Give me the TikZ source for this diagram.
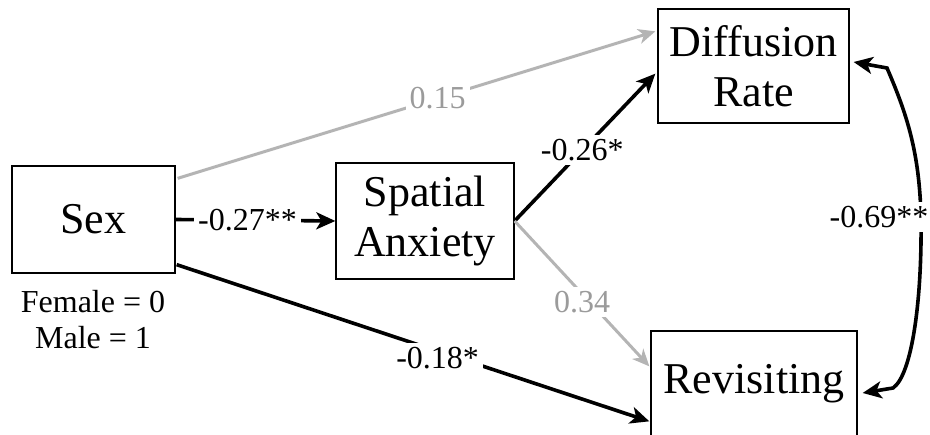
\documentclass[tikz,border=0pt]{standalone}
\usepackage{fontspec}
\setmainfont{Liberation Serif}
\usetikzlibrary{arrows.meta,calc}
\definecolor{lgray}{RGB}{180,180,180}
\definecolor{tgray}{RGB}{155,155,155}
\tikzset{
  box/.style={draw, line width=1.3pt, align=center, font=\fontsize{44}{50}\selectfont, inner sep=0pt},
  lbl/.style={fill=white, inner sep=4pt, font=\fontsize{32}{36}\selectfont, text=black},
  glbl/.style={lbl, text=tgray},
  blk/.style={line width=3.6pt, -{Stealth[length=19pt,width=17pt,inset=5pt]}},
  gry/.style={line width=3pt, lgray, -{Stealth[length=17pt,width=15pt,inset=5pt]}},
  dbl/.style={line width=3.6pt, {Stealth[length=19pt,width=17pt,inset=5pt]}-{Stealth[length=19pt,width=17pt,inset=5pt]}}
}
\begin{document}
\begin{tikzpicture}[x=1pt,y=-1pt]
\useasboundingbox (0,0) rectangle (930,435);
\clip (0,0) rectangle (930,435);
\node[box, minimum width=163pt, minimum height=107pt] (sex) at (93.5,219.5) {Sex};
\node[box, minimum width=178pt, minimum height=116pt] (spa) at (425,221) {Spatial\\Anxiety};
\node[box, minimum width=191pt, minimum height=114pt] (diff) at (753.5,66) {Diffusion\\Rate};
\node[box, minimum width=206pt, minimum height=106pt] (rev) at (754,384) {Revisiting};
\node[align=center, font=\fontsize{32}{36}\selectfont] (code) at (93,320) {Female = 0\\Male = 1};

% Sex -> Diffusion (gray)
\draw[gry] ($(sex.north east)+(2,13)$) -- ($(diff.north west)+(-2,23)$)
  node[glbl, pos=0.544] (l15) {0.15};
% Sex -> Spatial
\draw[blk] (sex.east) -- (spa.west) node[lbl, pos=0.45] (l27) {-0.27**};
% Sex -> Revisiting
\draw[blk] ($(sex.south east)+(1,-9)$) -- ($(rev.north west)+(-1,91)$)
  node[lbl, pos=0.552, yshift=-7pt] (l18) {-0.18*};
% Spatial -> Diffusion
\draw[blk] (spa.east) -- ($(diff.south west)+(-2,-50)$)
  node[lbl, pos=0.48] (l26) {-0.26*};
% Spatial -> Revisiting (gray)
\draw[gry] (spa.east) -- ($(rev.north west)+(-1,36)$)
  node[glbl, pos=0.5, yshift=-8pt] (l34) {0.34};
% Correlation
\draw[dbl] ($(diff.east)+(4,-4)$) -- (887,68) .. controls (905,110) and (920,150) .. (921,220)
  .. controls (922,300) and (912,375) .. (893,388) -- ($(rev.east)+(5,9)$);
\node[lbl] (l69) at (879,217) {-0.69**};
\end{tikzpicture}
\end{document}
